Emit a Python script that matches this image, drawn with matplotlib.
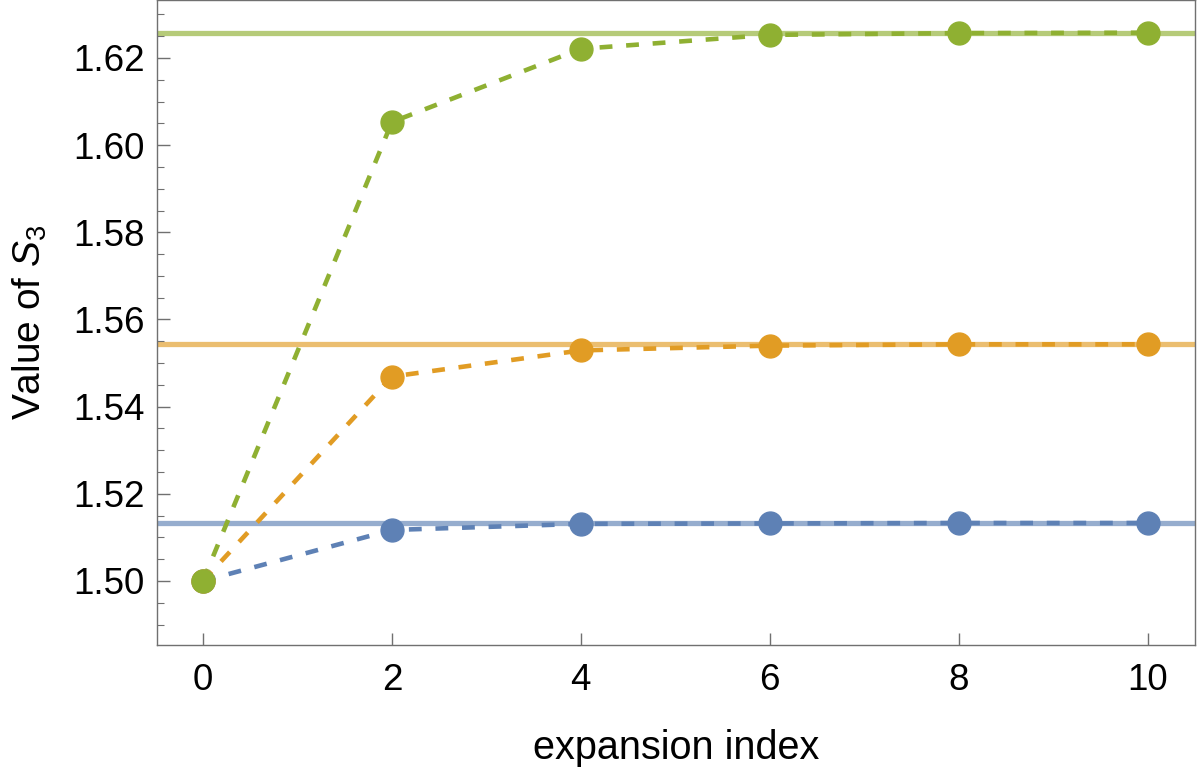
import matplotlib
matplotlib.use("Agg")
import matplotlib.pyplot as plt
from matplotlib.ticker import MultipleLocator, FormatStrFormatter

plt.rcParams["font.family"] = ["Liberation Sans", "DejaVu Sans"]
plt.rcParams["mathtext.fontset"] = "custom"
plt.rcParams["mathtext.rm"] = "Liberation Sans"
plt.rcParams["mathtext.it"] = "Liberation Sans:italic"

idx = [0, 2, 4, 6, 8, 10]
s_blue = [1.5000, 1.5117, 1.5131, 1.5132, 1.5133, 1.5133]
s_orange = [1.5000, 1.5469, 1.5529, 1.5540, 1.5543, 1.5543]
s_green = [1.5000, 1.6053, 1.6221, 1.6253, 1.6257, 1.6258]
lim_blue, lim_orange, lim_green = 1.5133, 1.5543, 1.6258

BLUE, ORANGE, GREEN = "#5E81B5", "#E19C24", "#8FB032"

fig = plt.figure(figsize=(12, 7.75), dpi=100)
ax = fig.add_axes([0.1308, 0.1677, 0.865, 0.8323])

for lim, c in [(lim_blue, BLUE), (lim_orange, ORANGE), (lim_green, GREEN)]:
    ax.axhline(lim, color=c, alpha=0.65, lw=3.8, zorder=1)

for s, c in [(s_blue, BLUE), (s_orange, ORANGE), (s_green, GREEN)]:
    ax.plot(idx, s, color=c, lw=3.3, dashes=(2.8, 3.0), zorder=2)
for s, c in [(s_blue, BLUE), (s_orange, ORANGE), (s_green, GREEN)]:
    ax.plot(idx, s, "o", color=c, ms=16.5, mec=c, zorder=3)

ax.set_xlim(-0.487, 10.5)
ax.set_ylim(1.4853, 1.6333)
ax.set_xticks(idx)
ax.yaxis.set_major_locator(MultipleLocator(0.02))
ax.yaxis.set_minor_locator(MultipleLocator(0.005))
ax.yaxis.set_major_formatter(FormatStrFormatter("%.2f"))

for sp in ax.spines.values():
    sp.set_color("#707070")
    sp.set_linewidth(1.0)
ax.tick_params(which="both", direction="in", color="#707070",
               top=False, right=False)
ax.tick_params(which="major", length=9, width=1.0)
ax.tick_params(which="minor", length=5, width=0.8)
ax.tick_params(axis="y", labelsize=26.5, pad=9)
ax.tick_params(axis="x", labelsize=26.5, pad=13)

ax.set_xlabel("expansion index", fontsize=28.5, labelpad=22)
ax.set_ylabel(r"Value of $S_3$", fontsize=28, labelpad=17)

fig.savefig("out.png", dpi=100)
